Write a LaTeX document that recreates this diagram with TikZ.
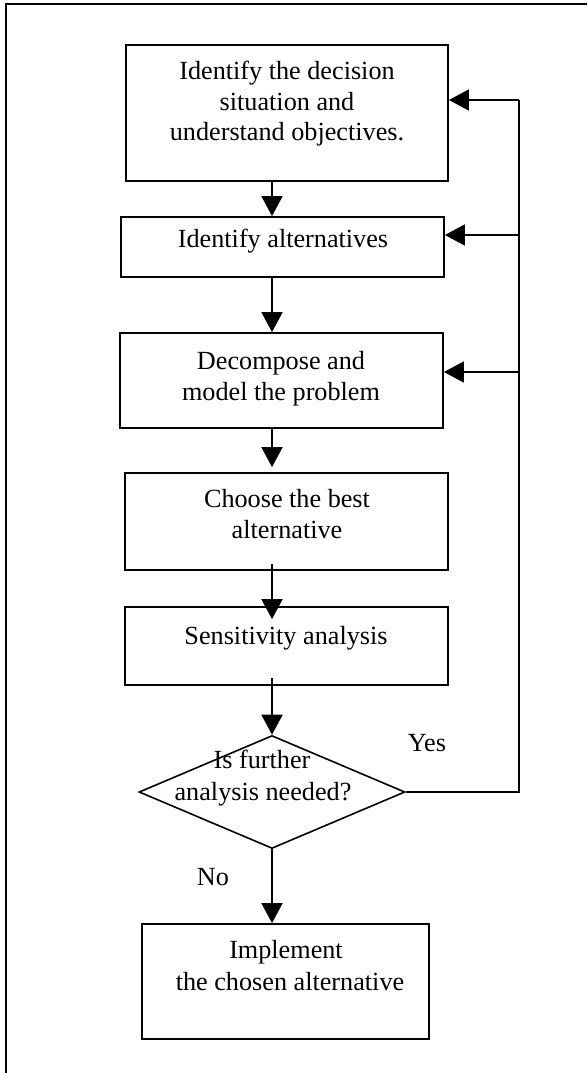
\documentclass[tikz,border=0pt]{standalone}
\usepackage{fontspec}
\setmainfont{Liberation Serif}
\usetikzlibrary{arrows.meta,shapes.geometric,calc}

\begin{document}
\begin{tikzpicture}[x=1pt,y=-1pt,
  stepbox/.style={draw,line width=1.8pt,rectangle,inner sep=0pt,minimum width=#1},
  decision/.style={draw,line width=1.6pt,diamond,inner sep=0pt,minimum width=266pt,minimum height=113pt},
  txt/.style={anchor=base,inner sep=0pt,font=\fontsize{26.2pt}{30pt}\selectfont},
  arr/.style={line width=1.8pt,-{Triangle[length=20pt,width=21pt]}},
  link/.style={line width=1.8pt},
  frame/.style={line width=2pt}]

\useasboundingbox (0,0) rectangle (587,1073);

% page frame (top and left edges)
\draw[frame] (6,1073) -- (6,4) -- (587,4);

% process steps
\node[stepbox=322pt,minimum height=136pt] (b1) at (287,113) {};
\node[stepbox=323pt,minimum height=60pt]  (b2) at (282.5,247) {};
\node[stepbox=323pt,minimum height=95pt]  (b3) at (281.5,380.5) {};
\node[stepbox=323pt,minimum height=97pt]  (b4) at (286.5,521.5) {};
\node[stepbox=323pt,minimum height=78pt]  (b5) at (286.5,646) {};
\node[decision] (dec) at (272,792) {};
\node[stepbox=287pt,minimum height=115pt] (b6) at (285.5,981.5) {};

% step texts
\node[txt] (t1a) at (287,79)  {Identify the decision};
\node[txt] (t1b) at (287,110) {situation and};
\node[txt] (t1c) at (287,140) {understand objectives.};
\node[txt] (t2)  at (283,247) {Identify alternatives};
\node[txt] (t3a) at (281,369) {Decompose and};
\node[txt] (t3b) at (281,400) {model the problem};
\node[txt] (t4a) at (287,507) {Choose the best};
\node[txt] (t4b) at (287,538) {alternative};
\node[txt] (t5)  at (286,644) {Sensitivity analysis};
\node[txt] (d1)  at (262,768) {Is further};
\node[txt] (d2)  at (263,800) {analysis needed?};
\node[txt] (t6a) at (286,958) {Implement};
\node[txt] (t6b) at (290,990) {the chosen alternative};

% branch labels
\node[txt] (yes) at (427,751) {Yes};
\node[txt] (no)  at (213,885) {No};

% main flow
\draw[arr] (b1.south -| dec.north) -- (b2.north -| dec.north);
\draw[arr] (b2.south -| dec.north) -- (b3.north -| dec.north);
\draw[arr] (b3.south -| dec.north) -- ($(b4.north -| dec.north)+(0,-5)$);
\draw[arr] ($(b4.south -| dec.north)+(0,-7)$) -- ($(b5.north -| dec.north)+(0,13)$);
\draw[arr] ($(b5.south -| dec.north)+(0,-8)$) -- (dec.north);
\draw[arr] (dec.south) -- (b6.north -| dec.north);

% feedback loop
\coordinate (j1) at (519,100);
\coordinate (j2) at (519,235);
\coordinate (j3) at (519,372);
\draw[link] (dec.east) -| (j1);
\draw[arr] (j1) -- (j1 -| b1.east);
\draw[arr] (j2) -- (j2 -| b2.east);
\draw[arr] (j3) -- (j3 -| b3.east);

\end{tikzpicture}
\end{document}
